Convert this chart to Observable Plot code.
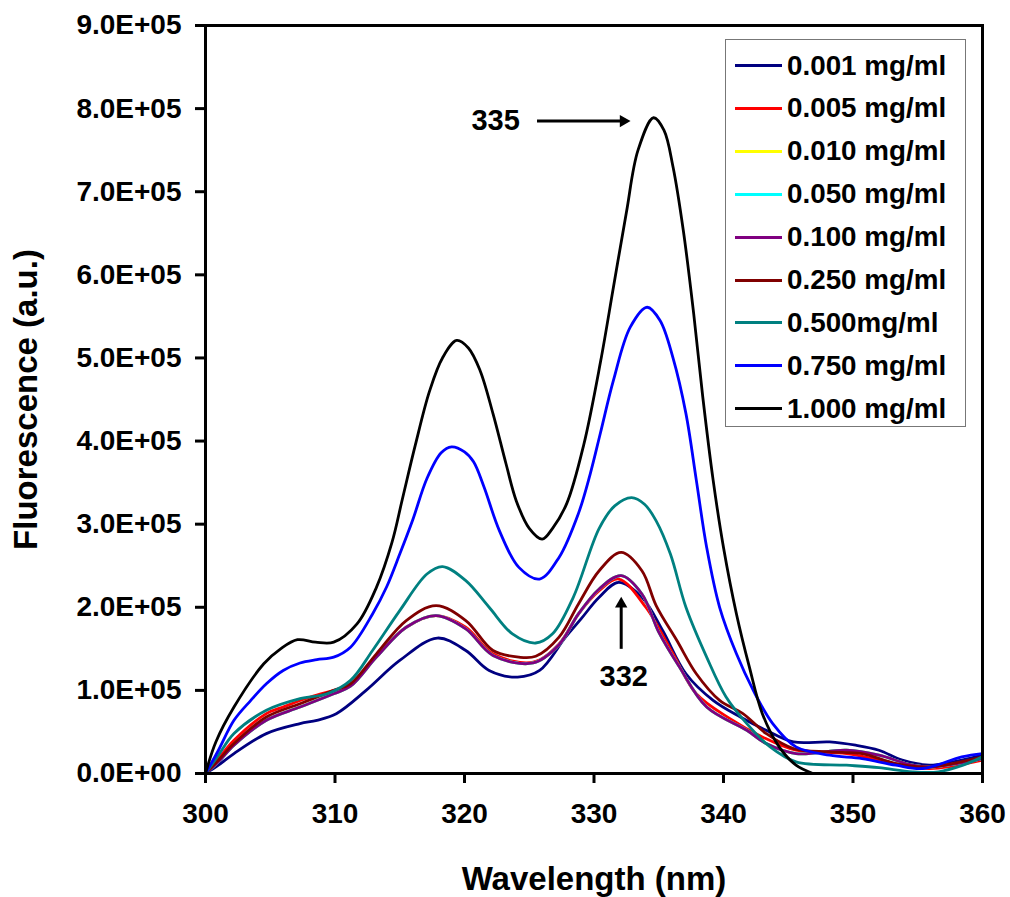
<!DOCTYPE html>
<html>
<head>
<meta charset="utf-8">
<script src="https://cdn.jsdelivr.net/npm/d3@7"></script>
<script src="https://cdn.jsdelivr.net/npm/@observablehq/plot@0.6"></script>
<style>
  html, body { margin: 0; padding: 0; background: #fff; }
  #wrap { position: relative; width: 1010px; height: 897px; font-family: "Liberation Sans", Arial, sans-serif; font-weight: bold; }
  #legend { position: absolute; left: 725px; top: 39px; width: 241px; height: 388px; border: 1px solid #777; background: #fff; box-sizing: border-box; }
  .row { position: absolute; left: 9px; height: 43px; display: flex; align-items: center; font-size: 27.8px; color: #000; white-space: nowrap; }
  .sw { width: 47px; height: 3px; margin-right: 5px; }
</style>
</head>
<body>
<div id="wrap"></div>
<script>
// Concentration series (legend labels & colours)
const seriesNames = ["0.001 mg/ml","0.005 mg/ml","0.010 mg/ml","0.050 mg/ml","0.100 mg/ml","0.250 mg/ml","0.500mg/ml","0.750 mg/ml","1.000 mg/ml"];
const seriesColors = ["#000080","#FF0000","#FFFF00","#00FFFF","#800080","#800000","#008080","#0000FF","#000000"];

// [wavelength (nm), fluorescence (x1E+05 a.u.)]
const s0001 = [[300,0],[301,0.1],[302.2,0.24],[304.7,0.48],[307.3,0.6],[308.6,0.64],[310.1,0.72],[312.4,1.0],[315,1.36],[317.9,1.63],[320.1,1.48],[321.9,1.24],[324.1,1.16],[325.8,1.24],[327.8,1.64],[329,1.86],[330.4,2.12],[331.9,2.3],[333.7,2.12],[335.3,1.72],[337.1,1.2],[339.2,0.88],[341.3,0.68],[343.3,0.52],[345.4,0.38],[348.2,0.38],[350.2,0.34],[352,0.28],[353.8,0.16],[355.9,0.1],[358.4,0.16],[360,0.22]];
const s0005 = [[300,0],[301,0.18],[302.2,0.4],[304.7,0.72],[306,0.8],[308.1,0.92],[309.9,1.0],[311.2,1.06],[313.2,1.42],[315.5,1.76],[317.8,1.9],[320.1,1.76],[322.2,1.44],[325.3,1.34],[327.3,1.56],[328.8,1.92],[330.4,2.2],[331.9,2.34],[334,2.0],[336.1,1.44],[337.9,0.96],[340.5,0.66],[343,0.44],[345.6,0.28],[349.5,0.24],[353.3,0.12],[355.9,0.06],[360,0.16]];
const s0010 = [[300,0],[301,0.14],[302.2,0.34],[304.7,0.64],[307.3,0.8],[309.9,0.96],[311.2,1.05],[313.2,1.4],[315.5,1.76],[317.8,1.9],[320.1,1.74],[322.2,1.42],[325.3,1.33],[327.3,1.55],[328.8,1.92],[330.4,2.22],[332.1,2.38],[333.7,2.16],[335,1.7],[336.6,1.28],[338.7,0.8],[341.8,0.52],[343.3,0.36],[345.6,0.24],[349.5,0.28],[352,0.22],[354.6,0.1],[356.1,0.08],[360,0.18]];
const s0050 = [[300,0],[301,0.14],[302.2,0.34],[304.7,0.64],[307.3,0.8],[309.9,0.96],[311.2,1.05],[313.2,1.4],[315.5,1.76],[317.8,1.9],[320.1,1.74],[322.2,1.42],[325.3,1.33],[327.3,1.55],[328.8,1.92],[330.4,2.22],[332.1,2.38],[333.7,2.16],[335,1.7],[336.6,1.28],[338.7,0.8],[341.8,0.52],[343.3,0.36],[345.6,0.24],[349.5,0.28],[352,0.22],[354.6,0.1],[356.1,0.08],[360,0.18]];
const s0100 = [[300,0],[301,0.14],[302.2,0.34],[304.7,0.64],[307.3,0.8],[309.9,0.96],[311.2,1.05],[313.2,1.4],[315.5,1.76],[317.8,1.9],[320.1,1.74],[322.2,1.42],[325.3,1.33],[327.3,1.55],[328.8,1.92],[330.4,2.22],[332.1,2.38],[333.7,2.16],[335,1.7],[336.6,1.28],[338.7,0.8],[341.8,0.52],[343.3,0.36],[345.6,0.24],[349.5,0.28],[352,0.22],[354.6,0.1],[356.1,0.08],[360,0.18]];
const s0250 = [[300,0],[301,0.16],[302.2,0.36],[304.7,0.68],[307.3,0.84],[309.9,1.0],[311.2,1.08],[313.2,1.44],[315.5,1.84],[317.8,2.02],[320.1,1.84],[322.2,1.48],[324.2,1.4],[325.5,1.41],[327.3,1.64],[328.8,2.04],[330.4,2.44],[332.1,2.66],[333.7,2.44],[334.8,2.02],[336.4,1.6],[337.9,1.2],[339.7,0.88],[341.5,0.72],[343.3,0.48],[345.4,0.3],[348.2,0.26],[350.7,0.24],[353.3,0.12],[355.9,0.08],[360,0.2]];
const s0500 = [[300,0],[301,0.22],[302.2,0.48],[304.7,0.76],[307.3,0.9],[309.4,0.96],[311.2,1.12],[312.9,1.48],[315,1.96],[317.1,2.4],[318.3,2.49],[320.1,2.32],[321.9,2.0],[323.7,1.68],[325.5,1.57],[326.8,1.68],[328.4,2.12],[330.4,2.95],[331.6,3.22],[332.9,3.32],[333.9,3.24],[334.8,3.04],[335.9,2.64],[337.1,2.0],[338.7,1.4],[340.2,0.92],[341.8,0.6],[343.6,0.32],[345.6,0.14],[349.5,0.1],[352,0.07],[354.6,0.02],[356.6,0.02],[358.5,0.1],[360,0.2]];
const s0750 = [[300,0],[301,0.28],[302.2,0.64],[303.5,0.88],[304.7,1.08],[306,1.24],[307.3,1.33],[308.6,1.37],[309.9,1.4],[311.2,1.52],[312.9,1.92],[314,2.25],[315,2.64],[316,3.05],[317.1,3.55],[318.2,3.86],[319,3.93],[320,3.87],[320.7,3.75],[321.5,3.45],[322.7,2.92],[324.2,2.48],[325.8,2.34],[327.3,2.6],[328.8,3.13],[329.7,3.6],[330.5,4.1],[331.5,4.73],[332.8,5.37],[334.1,5.61],[335.1,5.45],[336.1,5.0],[337.1,4.33],[337.9,3.53],[338.7,2.72],[339.7,2.0],[341,1.44],[342.3,1.0],[343.8,0.6],[345.6,0.32],[348.2,0.22],[350.7,0.18],[353.3,0.1],[355.4,0.06],[358.4,0.2],[360,0.24]];
const s1000 = [[300,0],[300.8,0.38],[302.2,0.8],[304.5,1.32],[305.8,1.5],[307.1,1.61],[308.5,1.58],[309.9,1.58],[311.7,1.8],[313.2,2.24],[314.4,2.78],[315.2,3.3],[316.2,3.95],[317.3,4.6],[318.3,5.0],[319.4,5.21],[320.3,5.12],[321.2,4.85],[322.2,4.33],[323.2,3.73],[324,3.28],[325,2.95],[326,2.82],[326.8,2.95],[327.9,3.25],[329.2,3.95],[330.5,4.95],[331.5,5.85],[332.5,6.75],[333.4,7.5],[334.6,7.89],[335.4,7.74],[336.1,7.3],[336.9,6.53],[337.7,5.53],[338.4,4.53],[339.2,3.53],[340,2.72],[341,1.92],[342,1.28],[343,0.72],[344.3,0.32],[345.6,0.1],[346.9,0]];

const seriesData = [s0001, s0005, s0010, s0050, s0100, s0250, s0500, s0750, s1000];

// Axis ticks
const xTicks = [300, 310, 320, 330, 340, 350, 360];
const yTicks = [0, 1e5, 2e5, 3e5, 4e5, 5e5, 6e5, 7e5, 8e5, 9e5];

// Annotations
const peakLabels = [{x: 322.4, y: 7.86e5, text: "335"}, {x: 332.3, y: 1.16e5, text: "332"}];
const arrowShafts = [{x1: 325.6, y1: 7.85e5, x2: 332.4, y2: 7.85e5}, {x1: 332.1, y1: 1.5e5, x2: 332.1, y2: 2.02e5}];
const arrowHeads = [{x: 332.27, y: 7.85e5, rot: 90}, {x: 332.1, y: 2.04e5, rot: 0}];

const rows = [];
seriesData.forEach((s, i) => s.forEach(([x, y]) => rows.push({series: seriesNames[i], x, y: y * 1e5})));

const fmt = d => d === 0 ? "0.0E+00" : (d / 1e5).toFixed(1) + "E+05";

const chart = Plot.plot({
  width: 1010,
  height: 897,
  marginLeft: 205,
  marginRight: 28,
  marginTop: 25,
  marginBottom: 124,
  style: {fontFamily: "'Liberation Sans', Arial, sans-serif", fontWeight: "bold", background: "white", color: "black"},
  x: {domain: [300, 360]},
  y: {domain: [0, 9e5]},
  color: {domain: seriesNames, range: seriesColors},
  marks: [
    Plot.line(rows, {x: "x", y: "y", z: "series", stroke: "series", strokeWidth: 2.8, curve: "catmull-rom"}),
    Plot.frame({stroke: "black", strokeWidth: 3}),
    Plot.axisX({ticks: xTicks, tickFormat: d => String(d), tickSize: 10, tickPadding: 20, fontSize: 28, strokeWidth: 3, label: null}),
    Plot.axisY({ticks: yTicks, tickFormat: fmt, tickSize: 10, tickPadding: 14, fontSize: 28, strokeWidth: 3, label: null}),
    Plot.text(["Wavelength (nm)"], {frameAnchor: "bottom", dy: 116, fontSize: 33, fontWeight: "bold", fill: "black"}),
    Plot.text(["Fluorescence (a.u.)"], {frameAnchor: "left", textAnchor: "middle", dx: -179, rotate: -90, fontSize: 33, fontWeight: "bold", fill: "black"}),
    Plot.link(arrowShafts, {x1: "x1", y1: "y1", x2: "x2", y2: "y2", stroke: "black", strokeWidth: 3}),
    Plot.dot(arrowHeads, {x: "x", y: "y", symbol: "triangle", r: 4.6, rotate: "rot", fill: "black", stroke: "none"}),
    Plot.text(peakLabels, {x: "x", y: "y", text: "text", fontSize: 29, fontWeight: "bold", fill: "black"})
  ]
});

const wrap = document.getElementById("wrap");
wrap.appendChild(chart);

const legend = document.createElement("div");
legend.id = "legend";
seriesNames.forEach((name, i) => {
  const row = document.createElement("div");
  row.className = "row";
  row.style.top = (4 + i * 42.9) + "px";
  const sw = document.createElement("div");
  sw.className = "sw";
  sw.style.background = seriesColors[i];
  const t = document.createElement("span");
  t.textContent = name;
  row.appendChild(sw);
  row.appendChild(t);
  legend.appendChild(row);
});
wrap.appendChild(legend);
</script>
</body>
</html>
